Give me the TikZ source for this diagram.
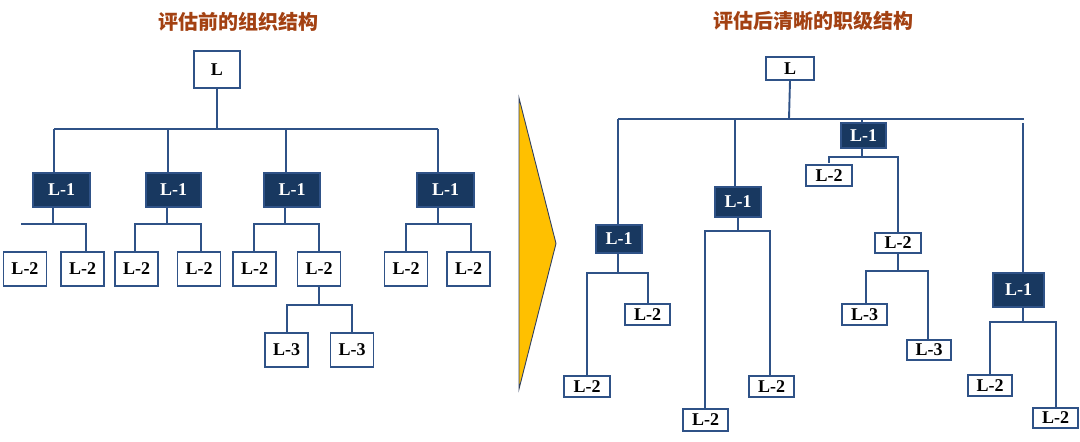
\documentclass[tikz,border=0pt]{standalone}
\usepackage{fontspec}
\setmainfont{Liberation Serif}
\newfontfamily\cjk{Noto Sans CJK SC}
\definecolor{lineblue}{RGB}{47,82,135}
\definecolor{navy}{RGB}{24,56,96}
\definecolor{titlebrown}{RGB}{163,65,18}
\definecolor{arrowyellow}{RGB}{255,192,0}
\definecolor{arrowedge}{RGB}{50,65,95}
\begin{document}
\begin{tikzpicture}[x=1pt,y=-1pt,
  box/.style={draw=lineblue, line width=1.9pt, fill=white, inner sep=0pt,
    font=\fontsize{18}{18}\selectfont\bfseries, text=black},
  dark/.style={box, fill=navy, text=white},
  sz/.style 2 args={minimum width=#1pt, minimum height=#2pt},
  conn/.style={draw=lineblue, line width=1.9pt},
  ttl/.style={font=\cjk\bfseries\fontsize{20}{20}\selectfont, text=titlebrown}
]
\useasboundingbox (0,0) rectangle (1080,442);

% titles
\node[ttl] (t1) at (238,22) {评估前的组织结构};
\node[ttl] (t2) at (813,21) {评估后清晰的职级结构};

% arrow
\filldraw[fill=arrowyellow, draw=arrowedge, line width=0.9pt]
  (519,98) -- (556,243.5) -- (519,389) -- cycle;

% ---------------- left tree ----------------
\node[box, sz={46}{37}] (lL) at (217,69.5) {L};
\node[dark, sz={57}{34}] (la) at (61.5,190) {L-1};
\node[dark, sz={55}{34}] (lb) at (173.5,190) {L-1};
\node[dark, sz={56}{34}] (lc) at (292,190) {L-1};
\node[dark, sz={57}{34}] (ld) at (445.5,190) {L-1};
\foreach \n/\x in {1/25,2/82.5,3/136.5,4/199,5/254.5,6/319,7/406,8/468.5}
  \node[box, sz={43}{34}] (lt\n) at (\x,269) {L-2};
\node[box, sz={43}{34}] (lu1) at (286.5,350) {L-3};
\node[box, sz={43}{34}] (lu2) at (352,350) {L-3};

\coordinate (lbus) at (217,129);
\coordinate (lbusA) at (54,129);
\coordinate (lbusB) at (168,129);
\coordinate (lbusC) at (286,129);
\coordinate (lbusD) at (438,129);
\draw[conn] (lL.south) -- (lbus);
\draw[conn] (lbusA) -- (lbusD);
\foreach \c/\n in {lbusA/la,lbusB/lb,lbusC/lc,lbusD/ld}
  \draw[conn] (\c) -- (\c |- \n.north);

% under L-1 a
\coordinate (ja) at (53,224);
\coordinate (jaL) at (21,224);
\coordinate (jaR) at (86,224);
\draw[conn] (ja |- la.south) -- (ja);
\draw[conn] (jaL) -- (jaR) -- (jaR |- lt2.north);
% under L-1 b
\coordinate (jb) at (167,224);
\coordinate (jbL) at (135,224);
\coordinate (jbR) at (201,224);
\draw[conn] (jb |- lb.south) -- (jb);
\draw[conn] (jbL |- lt3.north) -- (jbL) -- (jbR) -- (jbR |- lt4.north);
% under L-1 c
\coordinate (jc) at (285,224);
\coordinate (jcL) at (254,224);
\coordinate (jcR) at (319,224);
\draw[conn] (jc |- lc.south) -- (jc);
\draw[conn] (jcL |- lt5.north) -- (jcL) -- (jcR) -- (jcR |- lt6.north);
% under L-1 d
\coordinate (jd) at (438,224);
\coordinate (jdL) at (406,224);
\coordinate (jdR) at (471,224);
\draw[conn] (jd |- ld.south) -- (jd);
\draw[conn] (jdL |- lt7.north) -- (jdL) -- (jdR) -- (jdR |- lt8.north);
% under L-2 (6)
\coordinate (je) at (319,305);
\coordinate (jeL) at (287,305);
\coordinate (jeR) at (352,305);
\draw[conn] (lt6.south) -- (je);
\draw[conn] (jeL |- lu1.north) -- (jeL) -- (jeR) -- (jeR |- lu2.north);

% ---------------- right tree ----------------
\node[box, sz={48}{23}] (rL) at (790,68.5) {L};
\node[dark, sz={46}{28}] (ra) at (619,239) {L-1};
\node[dark, sz={46}{30}] (rb) at (738,202) {L-1};
\node[dark, sz={45}{25}] (rc) at (863.5,135.5) {L-1};
\node[dark, sz={51}{34}] (rd) at (1018.5,290) {L-1};
\node[box, sz={46}{21}] (ra1) at (587,386.5) {L-2};
\node[box, sz={45}{21}] (ra2) at (647.5,314.5) {L-2};
\node[box, sz={45}{22}] (rb1) at (705.5,420) {L-2};
\node[box, sz={45}{21}] (rb2) at (771.5,386.5) {L-2};
\node[box, sz={46}{21}] (rc1) at (829,175.5) {L-2};
\node[box, sz={46}{20}] (rc2) at (898,243) {L-2};
\node[box, sz={45}{21}] (rc3) at (864.5,314.5) {L-3};
\node[box, sz={44}{20}] (rc4) at (929,350) {L-3};
\node[box, sz={44}{21}] (rd1) at (990,385.5) {L-2};
\node[box, sz={45}{20}] (rd2) at (1055.5,418) {L-2};

\coordinate (rbus) at (789,119);
\coordinate (rbusA) at (618,119);
\coordinate (rbusB) at (735,119);
\coordinate (rbusC) at (862,119);
\coordinate (rbusE) at (1024,119);
\coordinate (rbusD) at (1023,123);
\draw[conn] (rL.south) -- (rbus);
\draw[conn] (rbusA) -- (rbusE);
\foreach \c/\n in {rbusA/ra,rbusB/rb,rbusC/rc,rbusD/rd}
  \draw[conn] (\c) -- (\c |- \n.north);

% under L-1 a
\coordinate (ka) at (618,273);
\coordinate (kaL) at (587,273);
\coordinate (kaR) at (648,273);
\draw[conn] (ka |- ra.south) -- (ka);
\draw[conn] (kaL |- ra1.north) -- (kaL) -- (kaR) -- (kaR |- ra2.north);
% under L-1 b
\coordinate (kb) at (738,231);
\coordinate (kbL) at (705,231);
\coordinate (kbR) at (770,231);
\draw[conn] (kb |- rb.south) -- (kb);
\draw[conn] (kbL |- rb1.north) -- (kbL) -- (kbR) -- (kbR |- rb2.north);
% under L-1 c
\coordinate (kc) at (862,157);
\coordinate (kcL) at (829,157);
\coordinate (kcR) at (898,157);
\coordinate (kcS) at (829,163);
\draw[conn] (kc |- rc.south) -- (kc);
\draw[conn] (kcS) -- (kcL) -- (kcR) -- (kcR |- rc2.north);
% under L-2 c2
\coordinate (ke) at (898,271);
\coordinate (keL) at (866,271);
\coordinate (keR) at (928,271);
\draw[conn] (rc2.south) -- (ke);
\draw[conn] (keL |- rc3.north) -- (keL) -- (keR) -- (keR |- rc4.north);
% under L-1 d
\coordinate (kd) at (1023,322);
\coordinate (kdL) at (990,322);
\coordinate (kdR) at (1056,322);
\draw[conn] (kd |- rd.south) -- (kd);
\draw[conn] (kdL |- rd1.north) -- (kdL) -- (kdR) -- (kdR |- rd2.north);
\end{tikzpicture}
\end{document}
